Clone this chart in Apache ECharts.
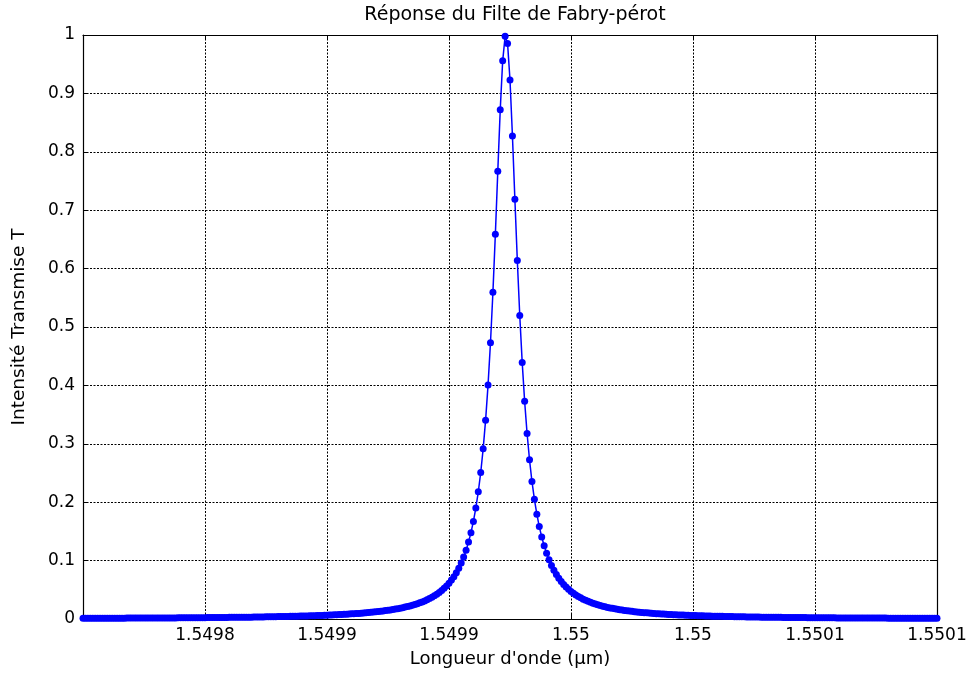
<!DOCTYPE html>
<html>
<head>
<meta charset="utf-8">
<script src="https://cdn.jsdelivr.net/npm/echarts@6/dist/echarts.min.js"></script>
<style>
html,body{margin:0;padding:0;background:#fff;}
#chart{width:970px;height:674px;}
</style>
</head>
<body>
<div id="chart"></div>
<script>
// Sampling grid of the wavelength axis (µm): 351 samples from lambdaStart with lambdaStep
var lambdaStart = 1.54975;
var lambdaStep = 0.000001;

// Transmitted intensity T (one value per sample)
var transmission = [
0.0012,0.0012,0.0012,0.0012,0.0012,0.0012,0.0013,0.0013,0.0013,0.0013,
0.0013,0.0013,0.0014,0.0014,0.0014,0.0014,0.0014,0.0014,0.0015,0.0015,
0.0015,0.0015,0.0015,0.0016,0.0016,0.0016,0.0016,0.0017,0.0017,0.0017,
0.0017,0.0017,0.0018,0.0018,0.0018,0.0018,0.0019,0.0019,0.0019,0.0020,
0.0020,0.0020,0.0021,0.0021,0.0021,0.0021,0.0022,0.0022,0.0023,0.0023,
0.0023,0.0024,0.0024,0.0024,0.0025,0.0025,0.0026,0.0026,0.0027,0.0027,
0.0028,0.0028,0.0029,0.0029,0.0030,0.0030,0.0031,0.0031,0.0032,0.0032,
0.0033,0.0034,0.0034,0.0035,0.0036,0.0037,0.0037,0.0038,0.0039,0.0040,
0.0041,0.0041,0.0042,0.0043,0.0044,0.0045,0.0046,0.0047,0.0048,0.0050,
0.0051,0.0052,0.0053,0.0055,0.0056,0.0057,0.0059,0.0060,0.0062,0.0064,
0.0065,0.0067,0.0069,0.0071,0.0073,0.0075,0.0078,0.0080,0.0082,0.0085,
0.0088,0.0090,0.0093,0.0096,0.0100,0.0103,0.0107,0.0111,0.0115,0.0119,
0.0123,0.0128,0.0133,0.0138,0.0144,0.0150,0.0156,0.0163,0.0170,0.0177,
0.0185,0.0194,0.0204,0.0214,0.0224,0.0236,0.0248,0.0262,0.0277,0.0292,
0.0310,0.0329,0.0349,0.0372,0.0397,0.0424,0.0454,0.0488,0.0525,0.0566,
0.0613,0.0666,0.0725,0.0793,0.0870,0.0958,0.1060,0.1178,0.1317,0.1479,
0.1671,0.1901,0.2177,0.2509,0.2914,0.3405,0.4005,0.4730,0.5594,0.6590,
0.7669,0.8720,0.9558,0.9978,
0.9856,0.9229,0.8272,0.7189,0.6138,0.5197,
0.4394,0.3727,0.3177,0.2726,0.2355,0.2049,0.1795,0.1583,0.1404,0.1253,
0.1124,0.1013,0.0918,0.0834,0.0762,0.0698,0.0642,0.0592,0.0548,0.0508,
0.0472,0.0440,0.0412,0.0385,0.0362,0.0340,0.0320,0.0302,0.0285,0.0270,
0.0256,0.0243,0.0231,0.0220,0.0209,0.0199,0.0190,0.0182,0.0174,0.0167,
0.0160,0.0153,0.0147,0.0141,0.0136,0.0131,0.0126,0.0121,0.0117,0.0113,
0.0109,0.0105,0.0102,0.0098,0.0095,0.0092,0.0089,0.0086,0.0084,0.0081,
0.0079,0.0077,0.0074,0.0072,0.0070,0.0068,0.0067,0.0065,0.0063,0.0061,
0.0060,0.0058,0.0057,0.0055,0.0054,0.0053,0.0052,0.0050,0.0049,0.0048,
0.0047,0.0046,0.0045,0.0044,0.0043,0.0042,0.0041,0.0040,0.0039,0.0039,
0.0038,0.0037,0.0036,0.0036,0.0035,0.0034,0.0033,0.0033,0.0032,0.0032,
0.0031,0.0030,0.0030,0.0029,0.0029,0.0028,0.0028,0.0027,0.0027,0.0026,
0.0026,0.0026,0.0025,0.0025,0.0024,0.0024,0.0024,0.0023,0.0023,0.0022,
0.0022,0.0022,0.0021,0.0021,0.0021,0.0020,0.0020,0.0020,0.0020,0.0019,
0.0019,0.0019,0.0018,0.0018,0.0018,0.0018,0.0017,0.0017,0.0017,0.0017,
0.0016,0.0016,0.0016,0.0016,0.0016,0.0015,0.0015,0.0015,0.0015,0.0015,
0.0014,0.0014,0.0014,0.0014,0.0014,0.0014,0.0013,0.0013,0.0013,0.0013,
0.0013,0.0013,0.0012,0.0012,0.0012,0.0012,0.0012,0.0012,0.0012,0.0011,0.0011
];

// Axis ticks
var xMin = 1.54975, xMax = 1.5501, xInterval = 0.00005;
var xTickValues = [1.5498, 1.54985, 1.5499, 1.54995, 1.55, 1.55005, 1.5501];
var xTickLabels = ['1.5498', '1.5499', '1.5499', '1.55', '1.55', '1.5501', '1.5501'];
var yMin = 0, yMax = 1, yInterval = 0.1;

var titleText = 'Réponse du Filte de Fabry-pérot';
var xName = "Longueur d'onde (µm)";
var yName = 'Intensité Transmise T';

var points = transmission.map(function (t, i) {
  return [lambdaStart + i * lambdaStep, t];
});

function xLabel(v) {
  for (var k = 0; k < xTickValues.length; k++) {
    if (Math.abs(v - xTickValues[k]) < xInterval / 10) return xTickLabels[k];
  }
  return '';
}

var FONT = 'DejaVu Sans';
var chart = echarts.init(document.getElementById('chart'), null, {renderer: 'canvas'});
var gridLine = {show: true, lineStyle: {color: '#000', width: 1, type: [2, 1.5]}};
var axisLine = {show: true, onZero: false, lineStyle: {color: '#000', width: 1.2}};
var tick = {show: true, inside: true, length: 5, lineStyle: {color: '#000', width: 1}};

chart.setOption({
  animation: false,
  backgroundColor: '#fff',
  title: {
    text: titleText,
    left: 510,
    top: 1,
    textAlign: 'center',
    textStyle: {fontFamily: FONT, fontSize: 19, fontWeight: 'normal', color: '#000'}
  },
  grid: {left: 83, right: 33, top: 35, bottom: 55, containLabel: false},
  xAxis: [{
    type: 'value', min: xMin, max: xMax, interval: xInterval,
    position: 'bottom',
    name: xName, nameLocation: 'middle', nameGap: 31,
    nameTextStyle: {fontFamily: FONT, fontSize: 18, color: '#000'},
    axisLine: axisLine, axisTick: tick,
    axisLabel: {show: true, margin: 8, formatter: xLabel, fontFamily: FONT, fontSize: 17, color: '#000', showMinLabel: true, showMaxLabel: true},
    splitLine: gridLine
  }, {
    type: 'value', min: xMin, max: xMax, interval: xInterval,
    position: 'top',
    axisLine: axisLine, axisTick: tick,
    axisLabel: {show: false}, splitLine: {show: false}
  }],
  yAxis: [{
    type: 'value', min: yMin, max: yMax, interval: yInterval,
    position: 'left',
    name: yName, nameLocation: 'middle', nameGap: 54,
    nameTextStyle: {fontFamily: FONT, fontSize: 18.5, color: '#000'},
    axisLine: axisLine, axisTick: tick,
    axisLabel: {show: true, margin: 8, fontFamily: FONT, fontSize: 17, color: '#000'},
    splitLine: gridLine
  }, {
    type: 'value', min: yMin, max: yMax, interval: yInterval,
    position: 'right',
    axisLine: axisLine, axisTick: tick,
    axisLabel: {show: false}, splitLine: {show: false}
  }],
  series: [{
    type: 'line',
    xAxisIndex: 0, yAxisIndex: 0,
    data: points,
    symbol: 'circle',
    symbolSize: 7,
    showSymbol: true,
    showAllSymbol: true,
    itemStyle: {color: '#0000ff'},
    lineStyle: {color: '#0000ff', width: 1.5},
    z: 5
  }]
});
</script>
</body>
</html>
